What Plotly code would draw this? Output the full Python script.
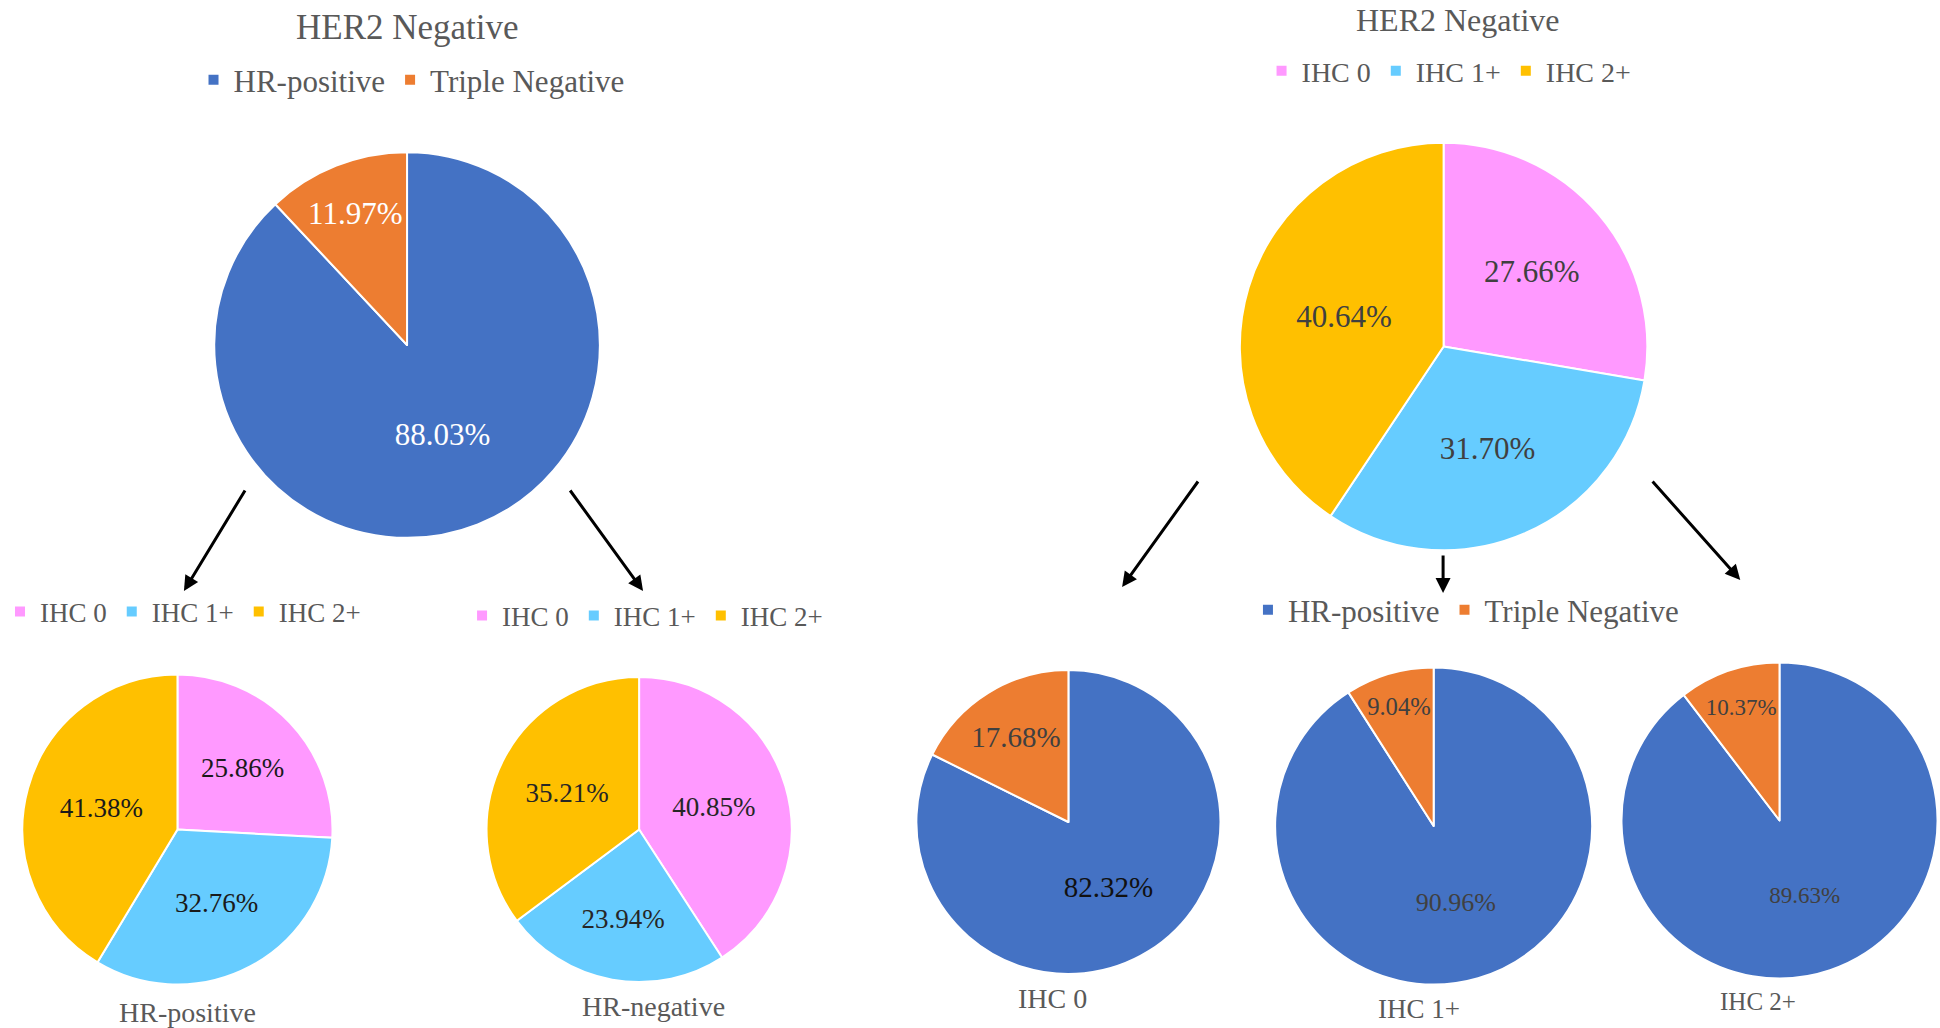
import plotly.graph_objects as go

W, H = 1940, 1028

# ---- data ----
hr_labels = ["HR-positive", "Triple Negative"]
ihc_labels = ["IHC 0", "IHC 1+", "IHC 2+"]

her2neg_hr_values = [88.03, 11.97]
hrpos_ihc_values = [25.86, 32.76, 41.38]
hrneg_ihc_values = [40.85, 23.94, 35.21]
her2neg_ihc_values = [27.66, 31.70, 40.64]
ihc0_hr_values = [82.32, 17.68]
ihc1_hr_values = [90.96, 9.04]
ihc2_hr_values = [89.63, 10.37]

titles = ["HER2 Negative", "HER2 Negative"]
captions = ["HR-positive", "HR-negative", "IHC 0", "IHC 1+", "IHC 2+"]

hr_colors = ["#4472C4", "#ED7D31"]
ihc_colors = ["#FF99FF", "#66CCFF", "#FFC000"]

FONT = "Liberation Serif, Times New Roman, serif"
GRAY = "#595959"


def dom(cx, cy, r):
    return dict(x=[(cx - r) / W, (cx + r) / W], y=[1 - (cy + r) / H, 1 - (cy - r) / H])


def pie(labels, values, colors, cx, cy, r, legend, fsize, tcolor, key, showlegend=True):
    # zero-width suffix keeps each legend's entries independent (pie legends merge by label)
    uniq = [lab + "\u200b" * key for lab in labels]
    return go.Pie(
        labels=uniq, values=values, sort=False, direction="clockwise", rotation=0,
        marker=dict(colors=colors, line=dict(color="white", width=2)),
        text=[f"{v:.2f}%" for v in values], textinfo="text", textposition="inside",
        insidetextorientation="horizontal",
        textfont=dict(family=FONT, size=fsize, color=tcolor),
        domain=dom(cx, cy, r), legend=legend, showlegend=showlegend,
        hovertemplate="%{label}: %{text}<extra></extra>",
    )


fig = go.Figure()
fig.add_trace(pie(hr_labels, her2neg_hr_values, hr_colors, 397.5, 345, 194, "legend", 31, "white", 0))
fig.add_trace(pie(ihc_labels, hrpos_ihc_values, ihc_colors, 166.5, 829.5, 156, "legend2", 27, "#1a1a1a", 1))
fig.add_trace(pie(ihc_labels, hrneg_ihc_values, ihc_colors, 631, 829.5, 153.5, "legend3", 27, "#262626", 2))
fig.add_trace(pie(ihc_labels, her2neg_ihc_values, ihc_colors, 1440.5, 346.5, 205, "legend4", 31, "#404040", 3))
fig.add_trace(pie(hr_labels, ihc0_hr_values, hr_colors, 1063, 822, 153, "legend5", 29, ["#111111", "#404040"], 4))
fig.add_trace(pie(hr_labels, ihc1_hr_values, hr_colors, 1430.5, 826, 159.5, "legend5", 26, "#404040", 4, False))
fig.add_trace(pie(hr_labels, ihc2_hr_values, hr_colors, 1778.5, 820.5, 159, "legend5", 23, "#404040", 4, False))


def leg(cx, cy, size):
    return dict(orientation="h", x=cx / W, y=1 - cy / H, xanchor="center", yanchor="middle",
                font=dict(family=FONT, size=size, color=GRAY), bgcolor="rgba(0,0,0,0)",
                itemclick=False, itemdoubleclick=False)


annotations = []
# titles
annotations.append(dict(text=titles[0], x=397.5 / W, y=1 - 27 / H, xref="paper", yref="paper",
                        showarrow=False, xanchor="center", yanchor="middle",
                        font=dict(family=FONT, size=35, color=GRAY)))
annotations.append(dict(text=titles[1], x=1455.5 / W, y=1, xref="paper", yref="paper",
                        showarrow=False, xanchor="center", yanchor="top",
                        font=dict(family=FONT, size=32, color=GRAY)))
# captions
for txt, (x, y, s) in zip(captions, [(177, 1012, 28), (645, 1006, 28), (1047, 998, 28),
                                     (1416, 1009, 27), (1757, 1001, 25)]):
    annotations.append(dict(text=txt, x=x / W, y=1 - y / H, xref="paper", yref="paper",
                            showarrow=False, xanchor="center", yanchor="middle",
                            font=dict(family=FONT, size=s, color=GRAY)))
# arrows (tail -> head)
arrows = [((235, 489), (173, 591)), ((561, 489), (635, 591)), ((1194, 480), (1117, 587)),
          ((1440, 554), (1440, 593)), ((1650, 480), (1739, 580))]
for (tx, ty), (hx, hy) in arrows:
    annotations.append(dict(text="", x=hx / W, y=1 - hy / H, xref="paper", yref="paper",
                            ax=tx - hx, ay=ty - hy, axref="pixel", ayref="pixel",
                            showarrow=True, arrowhead=2, arrowsize=1, arrowwidth=3,
                            arrowcolor="black"))

fig.update_layout(
    width=W, height=H, margin=dict(l=0, r=0, t=0, b=0),
    paper_bgcolor="white", plot_bgcolor="white",
    font=dict(family=FONT, color=GRAY),
    legend=leg(402, 80, 31),
    legend2=leg(172, 612, 27),
    legend3=leg(637, 616, 27),
    legend4=leg(1446, 71, 28),
    legend5=leg(1463, 610, 31),
    annotations=annotations,
)

fig.write_html("out.html", config={"displayModeBar": False},
               post_script="document.body.style.margin='0';")
